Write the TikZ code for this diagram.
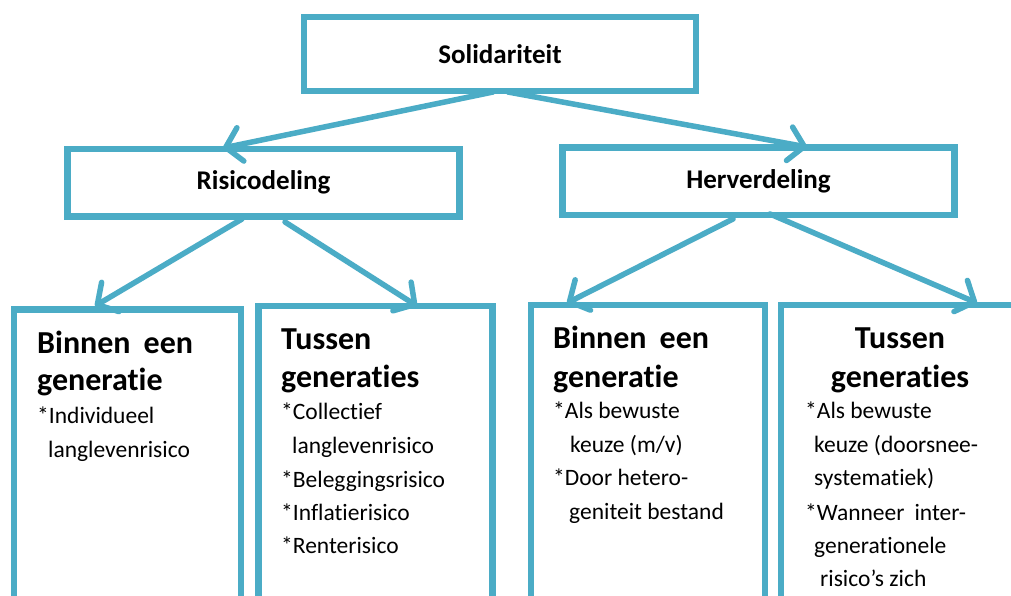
\documentclass[tikz,border=0pt]{standalone}
\usepackage{fontspec}
\setmainfont{Carlito}[RawFeature={-liga;-dlig;-clig}]
\usetikzlibrary{arrows.meta}
\definecolor{boxblue}{RGB}{75,172,198}
\tikzset{
  box/.style={draw=boxblue, line width=6.5pt, fill=white, inner sep=0pt, font=\bfseries\fontsize{27}{31}\selectfont},
  bigbox/.style={draw=boxblue, line width=6.5pt, inner sep=0pt},
  arr/.style={draw=boxblue, line width=5.5pt, line cap=round, line join=round, -{Straight Barb[length=15pt,width=34pt,round]}},
  head/.style={inner sep=0pt, anchor=base west, font=\bfseries\fontsize{32}{37}\selectfont},
  headc/.style={inner sep=0pt, anchor=base, font=\bfseries\fontsize{32}{37}\selectfont},
  body/.style={inner sep=0pt, anchor=base west, font=\fontsize{23.5}{28}\selectfont}
}
\begin{document}
\begin{tikzpicture}[x=1pt,y=-1pt]
\clip (0,0) rectangle (1011,595);
\fill[white] (0,0) rectangle (1011,595);

% top level boxes
\node[box, minimum width=392pt, minimum height=74pt] (sol) at (500,54) {Solidariteit};
\node[box, minimum width=392pt, minimum height=67.5pt] (ris) at (263.5,182.75) {Risicodeling};
\node[box, minimum width=392pt, minimum height=67.5pt] (her) at (758.5,181.25) {Herverdeling};

% bottom boxes (run off the bottom edge)
\node[bigbox, minimum width=227pt, minimum height=330pt] (b1) at (127.5,474.5) {};
\node[bigbox, minimum width=234pt, minimum height=330pt] (b2) at (375.5,471) {};
\node[bigbox, minimum width=234pt, minimum height=330pt] (b3) at (648,470) {};
\node[bigbox, minimum width=259pt, minimum height=330pt] (b4) at (910.5,470) {};

% connector end points
\coordinate (s1) at (493,92);
\coordinate (s2) at (508,92);
\coordinate (r1) at (223,148);
\coordinate (h1) at (807,147);
\coordinate (rs1) at (242,219);
\coordinate (rs2) at (285,222);
\coordinate (hs1) at (733,219);
\coordinate (hs2) at (770,214);
\coordinate (t1) at (95,306);
\coordinate (t2) at (417,306);
\coordinate (t3) at (567,303);
\coordinate (t4) at (977,303);

\draw[arr] (s1) -- (r1);
\draw[arr] (s2) -- (h1);
\draw[arr] (rs1) -- (t1);
\draw[arr] (rs2) -- (t2);
\draw[arr] (hs1) -- (t3);
\draw[arr] (hs2) -- (t4);

% box 1
\node[head] (h1a) at (37,353) {Binnen\hspace{13pt}een};
\node[head] (h1b) at (37,390) {generatie};
\node[body] (p1a) at (37,423) {*Individueel};
\node[body] (p1b) at (48,457) {langlevenrisico};

% box 2
\node[head] (h2a) at (281,349) {Tussen};
\node[head] (h2b) at (281,387) {generaties};
\node[body] (p2a) at (281,419) {*Collectief};
\node[body] (p2b) at (292,453) {langlevenrisico};
\node[body] (p2c) at (281,487) {*Beleggingsrisico};
\node[body] (p2d) at (281,520) {*Inflatierisico};
\node[body] (p2e) at (281,553) {*Renterisico};

% box 3
\node[head] (h3a) at (553,348) {Binnen\hspace{13pt}een};
\node[head] (h3b) at (553,387) {generatie};
\node[body] (p3a) at (553,418) {*Als bewuste};
\node[body] (p3b) at (570,452) {keuze (m/v)};
\node[body] (p3c) at (553,485) {*Door hetero-};
\node[body] (p3d) at (569,519) {geniteit bestand};

% box 4
\node[headc] (h4a) at (900,348) {Tussen};
\node[headc] (h4b) at (900,387) {generaties};
\node[body] (p4a) at (805,418) {*Als bewuste};
\node[body] (p4b) at (814,452) {keuze (doorsnee-};
\node[body] (p4c) at (814,485) {systematiek)};
\node[body] (p4d) at (805,520) {*Wanneer\hspace{10pt}inter-};
\node[body] (p4e) at (814,553) {generationele};
\node[body] (p4f) at (820,586) {risico’s zich};
\end{tikzpicture}
\end{document}
